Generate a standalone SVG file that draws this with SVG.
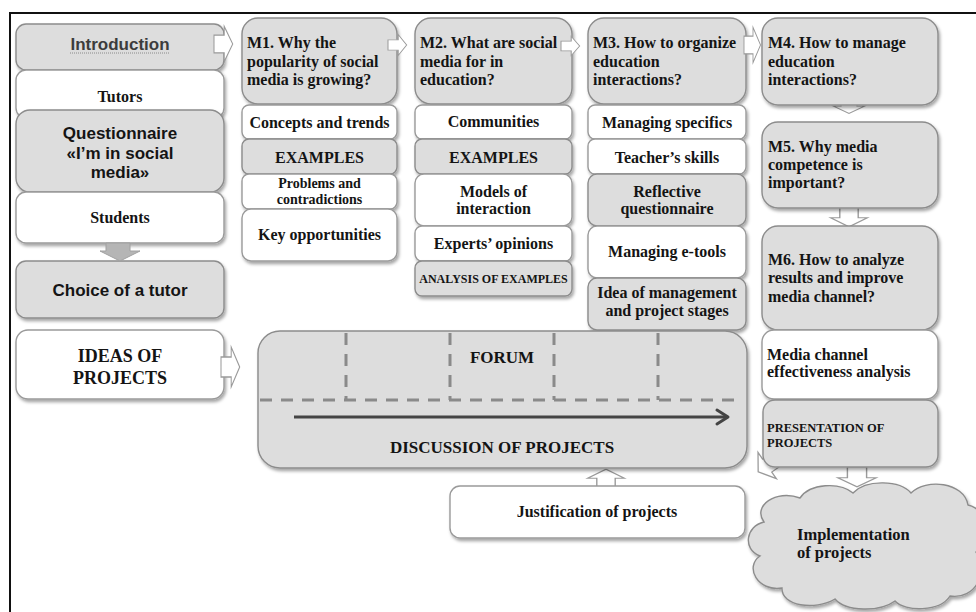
<svg xmlns="http://www.w3.org/2000/svg" width="976" height="612" viewBox="0 0 976 612">
  <defs>
    <filter id="shadow" x="-10%" y="-10%" width="125%" height="130%">
      <feDropShadow dx="1.5" dy="2.5" stdDeviation="1.6" flood-color="#000" flood-opacity="0.35"/>
    </filter>
    <!-- right-pointing block arrow, origin at shaft centre start -->
    <path id="blockArrow" d="M0,-8 H12 V-16 L22,0 L12,16 V8 H0 Z"/>
  </defs>
  <style>
    .g { fill: #dddddd; stroke: #8c8c8c; stroke-width: 1.4; filter: url(#shadow); }
    .w { fill: #ffffff; stroke: #9a9a9a; stroke-width: 1.4; filter: url(#shadow); }
    .arr { fill: #ffffff; stroke: #9a9a9a; stroke-width: 1.2; }
    .ser { font-family: "Liberation Serif", "Times New Roman", serif; font-weight: bold; font-size: 16px; fill: #141414; }
    .sans { font-family: "Liberation Sans", Arial, sans-serif; font-weight: bold; font-size: 17px; fill: #141414; }
    .c { text-anchor: middle; }
    .dash { stroke: #8a8a8a; stroke-width: 3; stroke-dasharray: 12 9; fill: none; }
  </style>

  <rect width="976" height="612" fill="#ffffff"/>
  <!-- outer frame (left and top edges) -->
  <path d="M10,612 V13 H976" fill="none" stroke="#111" stroke-width="2"/>

  <!-- left column -->
  <g id="intro">
    <rect class="g" x="16" y="24" width="208" height="46" rx="10"/>
    <text class="sans c" x="120" y="50" style="fill:#3c3c3c">Introduction</text>
    <line x1="70" y1="53" x2="170" y2="53" stroke="#8a8a8a" stroke-width="1" stroke-dasharray="1 1"/>
  </g>
  <g id="tutors">
    <rect class="w" x="16" y="70" width="208" height="48" rx="10"/>
    <text class="ser c" x="120" y="102">Tutors</text>
  </g>
  <g id="questionnaire">
    <rect class="g" x="16" y="110" width="208" height="82" rx="14"/>
    <text class="sans c" x="120" y="139">Questionnaire</text>
    <text class="sans c" x="120" y="159">«I’m in social</text>
    <text class="sans c" x="120" y="178">media»</text>
  </g>
  <g id="students">
    <rect class="w" x="16" y="192" width="208" height="51" rx="10"/>
    <text class="ser c" x="120" y="223">Students</text>
  </g>
  <g id="choice">
    <rect class="g" x="16" y="261" width="208" height="57" rx="10"/>
    <text class="sans c" x="120" y="296">Choice of a tutor</text>
  </g>
  <g id="ideas">
    <rect class="w" x="16" y="330" width="208" height="69" rx="12"/>
    <text class="ser c" x="120" y="362" style="font-size:18px">IDEAS OF</text>
    <text class="ser c" x="120" y="384" style="font-size:18px">PROJECTS</text>
  </g>

  <!-- module 1 -->
  <g id="m1">
    <rect class="g" x="242" y="18" width="155" height="86" rx="16"/>
    <text class="ser" x="247" y="48">M1. Why the</text>
    <text class="ser" x="247" y="67">popularity of social</text>
    <text class="ser" x="247" y="85">media is growing?</text>
  </g>
  <g id="m1-concepts">
    <rect class="w" x="242" y="105" width="155" height="34" rx="7"/>
    <text class="ser c" x="319.5" y="128">Concepts and trends</text>
  </g>
  <g id="m1-examples">
    <rect class="g" x="242" y="139" width="155" height="35" rx="7"/>
    <text class="ser c" x="319.5" y="163">EXAMPLES</text>
  </g>
  <g id="m1-problems">
    <rect class="w" x="242" y="174" width="155" height="35" rx="7"/>
    <text class="ser c" x="319.5" y="188" style="font-size:14px">Problems and</text>
    <text class="ser c" x="319.5" y="204" style="font-size:14px">contradictions</text>
  </g>
  <g id="m1-opportunities">
    <rect class="w" x="242" y="209" width="155" height="52" rx="9"/>
    <text class="ser c" x="319.5" y="240">Key opportunities</text>
  </g>

  <!-- module 2 -->
  <g id="m2">
    <rect class="g" x="415" y="18" width="157" height="86" rx="16"/>
    <text class="ser" x="420" y="48">M2. What are social</text>
    <text class="ser" x="420" y="67">media for in</text>
    <text class="ser" x="420" y="85">education?</text>
  </g>
  <g id="m2-communities">
    <rect class="w" x="415" y="105" width="157" height="34" rx="7"/>
    <text class="ser c" x="493.5" y="127">Communities</text>
  </g>
  <g id="m2-examples">
    <rect class="g" x="415" y="139" width="157" height="35" rx="7"/>
    <text class="ser c" x="493.5" y="163">EXAMPLES</text>
  </g>
  <g id="m2-models">
    <rect class="w" x="415" y="174" width="157" height="52" rx="9"/>
    <text class="ser c" x="493.5" y="197">Models of</text>
    <text class="ser c" x="493.5" y="214">interaction</text>
  </g>
  <g id="m2-experts">
    <rect class="w" x="415" y="226" width="157" height="35" rx="7"/>
    <text class="ser c" x="493.5" y="249">Experts’ opinions</text>
  </g>
  <g id="m2-analysis">
    <rect class="g" x="415" y="261" width="157" height="35" rx="7"/>
    <text class="ser c" x="493.5" y="283" style="font-size:12px">ANALYSIS OF EXAMPLES</text>
  </g>

  <!-- module 3 -->
  <g id="m3">
    <rect class="g" x="588" y="18" width="158" height="86" rx="16"/>
    <text class="ser" x="593" y="48">M3. How to organize</text>
    <text class="ser" x="593" y="67">education</text>
    <text class="ser" x="593" y="85">interactions?</text>
  </g>
  <g id="m3-specifics">
    <rect class="w" x="588" y="105" width="158" height="34" rx="7"/>
    <text class="ser c" x="667" y="128">Managing specifics</text>
  </g>
  <g id="m3-skills">
    <rect class="w" x="588" y="139" width="158" height="35" rx="7"/>
    <text class="ser c" x="667" y="163">Teacher’s skills</text>
  </g>
  <g id="m3-reflective">
    <rect class="g" x="588" y="174" width="158" height="52" rx="9"/>
    <text class="ser c" x="667" y="197">Reflective</text>
    <text class="ser c" x="667" y="214">questionnaire</text>
  </g>
  <g id="m3-etools">
    <rect class="w" x="588" y="226" width="158" height="52" rx="9"/>
    <text class="ser c" x="667" y="257">Managing e-tools</text>
  </g>
  <g id="m3-stages">
    <rect class="g" x="588" y="278" width="158" height="52" rx="9"/>
    <text class="ser c" x="667" y="298">Idea of management</text>
    <text class="ser c" x="667" y="316">and project stages</text>
  </g>

  <!-- connectors (block arrows) -->
  <g id="connectors">
    <use href="#blockArrow" class="arr" transform="translate(214,44) scale(0.85,1.1)"/>
    <use href="#blockArrow" class="arr" transform="translate(388,45) scale(0.85,0.65)"/>
    <use href="#blockArrow" class="arr" transform="translate(561,46) scale(0.85,0.6)"/>
    <use href="#blockArrow" class="arr" transform="translate(744,45) scale(0.75,1.1)"/>
    <use href="#blockArrow" class="arr" transform="translate(221,367) scale(0.85,1.25)"/>
    <!-- downward arrows in the right column -->
    <use href="#blockArrow" class="arr" transform="translate(849,97) rotate(90) scale(0.75,1.0)"/>
    <use href="#blockArrow" class="arr" transform="translate(849,207) rotate(90) scale(0.9,1.15)"/>
    <use href="#blockArrow" class="arr" transform="translate(857,467) rotate(90) scale(0.9,1.2)"/>
    <!-- from justification up to the discussion -->
    <use href="#blockArrow" class="arr" transform="translate(606,489) rotate(-90) scale(0.9,1.15)"/>
    <!-- from presentation back to the discussion -->
    <use href="#blockArrow" class="arr" transform="translate(778,458) rotate(145) scale(1.1,1.0)"/>
    <!-- students to tutor choice -->
    <path d="M106,243 H130 V251 H140 L120,261 L100,251 H106 Z" fill="#b5b5b5" stroke="#a0a0a0" stroke-width="1"/>
  </g>

  <!-- right column -->
  <g id="m4">
    <rect class="g" x="762" y="18" width="176" height="87" rx="16"/>
    <text class="ser" x="768" y="48">M4. How to manage</text>
    <text class="ser" x="768" y="67">education</text>
    <text class="ser" x="768" y="85">interactions?</text>
  </g>
  <g id="m5">
    <rect class="g" x="762" y="122" width="176" height="86" rx="16"/>
    <text class="ser" x="768" y="152">M5. Why media</text>
    <text class="ser" x="768" y="170">competence is</text>
    <text class="ser" x="768" y="188">important?</text>
  </g>
  <g id="m6">
    <rect class="g" x="762" y="226" width="176" height="104" rx="16"/>
    <text class="ser" x="768" y="265">M6. How to analyze</text>
    <text class="ser" x="768" y="283">results and improve</text>
    <text class="ser" x="768" y="302">media channel?</text>
  </g>
  <g id="m6-analysis">
    <rect class="w" x="762" y="330" width="176" height="69" rx="12"/>
    <text class="ser" x="767" y="360">Media channel</text>
    <text class="ser" x="767" y="377">effectiveness analysis</text>
  </g>
  <g id="presentation">
    <rect class="g" x="763" y="400" width="175" height="67" rx="12"/>
    <text class="ser" x="767" y="432" style="font-size:12.5px">PRESENTATION OF</text>
    <text class="ser" x="767" y="447" style="font-size:12.5px">PROJECTS</text>
  </g>

  <!-- forum / discussion -->
  <g id="forum">
    <rect class="g" x="258" y="331" width="489" height="137" rx="22"/>
    <path class="dash" d="M260,400 H743"/>
    <path class="dash" d="M346,333 V400 M450,333 V400 M554,333 V400 M658,333 V400"/>
    <text class="ser c" x="502" y="363" style="font-size:17px">FORUM</text>
    <path d="M294,417 H727" stroke="#444" stroke-width="3" fill="none"/>
    <path d="M717,410 L728,417 L717,424" stroke="#444" stroke-width="3" fill="none" stroke-linecap="round" stroke-linejoin="round"/>
    <text class="ser c" x="502" y="453" style="font-size:17px">DISCUSSION OF PROJECTS</text>
  </g>

  <g id="justification">
    <rect class="w" x="450" y="486" width="295" height="52" rx="10"/>
    <text class="ser c" x="597" y="517">Justification of projects</text>
  </g>

  <g id="implementation">
    <path class="g" d="M764,522 C752,506 776,489 800,498 C810,483 840,482 853,493 C866,479 900,480 911,493 C926,478 964,482 968,505 C990,510 990,540 976,552 C990,572 975,600 950,596 C940,612 905,612 895,601 C880,612 846,612 835,599 C815,611 781,606 782,588 C758,592 744,567 760,556 C742,549 746,526 764,522 Z"/>
    <text class="ser" x="797" y="540" style="font-size:16.5px">Implementation</text>
    <text class="ser" x="797" y="558" style="font-size:16.5px">of projects</text>
  </g>
</svg>
